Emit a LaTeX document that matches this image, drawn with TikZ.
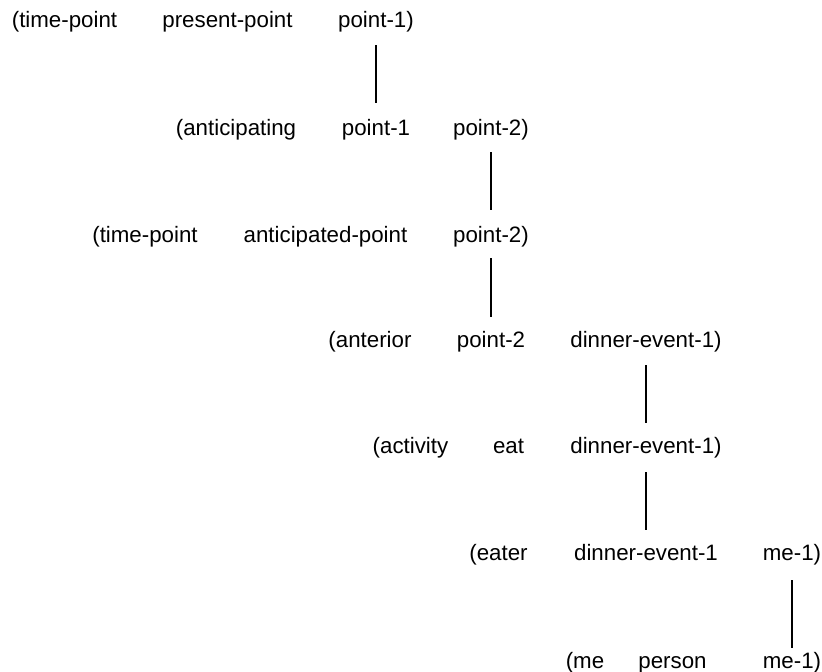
\documentclass[tikz,border=0pt]{standalone}
\usepackage{fontspec}
\setmainfont{Liberation Sans}
\begin{document}
\begin{tikzpicture}[x=1pt,y=-1pt,
  term/.style={inner sep=0pt,anchor=base,font=\fontsize{22.3}{26}\selectfont},
  link/.style={line width=2.6pt}]
\useasboundingbox (0,0) rectangle (822,672);
% row 1
\node[term] (a1) at (64.5,27)  {(time-point};
\node[term] (a2) at (227.5,27) {present-point};
\node[term] (a3) at (376,27)   {point-1)};
% row 2
\node[term] (b1) at (236,135)  {(anticipating};
\node[term] (b2) at (376,135)  {point-1};
\node[term] (b3) at (491,135)  {point-2)};
% row 3
\node[term] (c1) at (145,242)  {(time-point};
\node[term] (c2) at (325.5,242){anticipated-point};
\node[term] (c3) at (491,242)  {point-2)};
% row 4
\node[term] (d1) at (370,347)  {(anterior};
\node[term] (d2) at (491,347)  {point-2};
\node[term] (d3) at (646,347)  {dinner-event-1)};
% row 5
\node[term] (e1) at (410.5,453){(activity};
\node[term] (e2) at (508.5,453){eat};
\node[term] (e3) at (646,453)  {dinner-event-1)};
% row 6
\node[term] (f1) at (498.5,560){(eater};
\node[term] (f2) at (646,560)  {dinner-event-1};
\node[term] (f3) at (792,560)  {me-1)};
% row 7
\node[term] (g1) at (585,668)  {(me};
\node[term] (g2) at (672.5,668){person};
\node[term] (g3) at (792,668)  {me-1)};
% links between shared terms
\draw[link] ([yshift=-18pt]a3.base) -- ([yshift=32pt]b2.base);
\draw[link] ([yshift=-17pt]b3.base) -- ([yshift=32pt]c3.base);
\draw[link] ([yshift=-16pt]c3.base) -- ([yshift=30pt]d2.base);
\draw[link] ([yshift=-18pt]d3.base) -- ([yshift=30pt]e3.base);
\draw[link] ([yshift=-19pt]e3.base) -- ([yshift=30pt]f2.base);
\draw[link] ([yshift=-20pt]f3.base) -- ([yshift=20pt]g3.base);
\end{tikzpicture}
\end{document}
